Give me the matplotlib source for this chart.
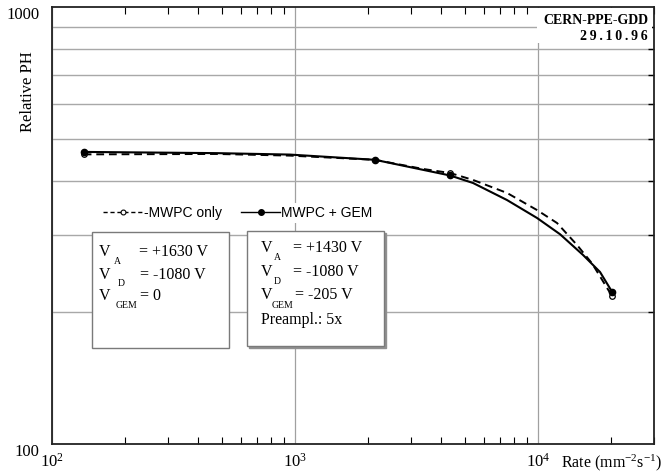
import numpy as np
import matplotlib.pyplot as plt
from matplotlib.patches import Rectangle
from matplotlib.ticker import NullFormatter, FixedLocator

plt.rcParams['font.family'] = ['Liberation Serif', 'DejaVu Serif']
plt.rcParams['mathtext.fontset'] = 'custom'
plt.rcParams['mathtext.rm'] = 'Liberation Serif'
plt.rcParams['mathtext.it'] = 'Liberation Serif:italic'

# Datos leídos de la figura
# curvas (MWPC + GEM continua, MWPC sola discontinua)
gem_curve_x = [135, 477, 953, 2134, 3363, 4345, 5402, 7454, 9905, 12317, 15318, 17990, 20160]
gem_curve_y = [466, 463, 459.5, 447, 424, 411.6, 395.6, 361.6, 329, 302, 270.7, 247.5, 223]
mwpc_curve_x = [135, 477, 953, 2134, 3363, 4345, 5402, 7454, 9905, 11970, 14470, 16680, 20160]
mwpc_curve_y = [460, 461, 457, 447, 426, 417, 402, 375.4, 343, 320.4, 285.3, 259, 218]

# puntos medidos
gem_pts_x = [135, 2134, 4345, 20160]
gem_pts_y = [466, 447, 411.6, 223]
mwpc_pts_x = [135, 4345, 20160]
mwpc_pts_y = [460, 417, 218]

W, H = 661, 473
fig = plt.figure(figsize=(W / 100, H / 100), dpi=100)
ax = fig.add_axes([52 / W, 1 - 444 / H, (654 - 52) / W, (444 - 7) / H])

def fx(px):
    return px / W

def fy(py):
    return 1 - py / H

ax.set_xscale('log')
ax.set_yscale('log')
ax.set_xlim(100, 30000)
ax.set_ylim(100, 1000)

# curvas
ax.plot(mwpc_curve_x, mwpc_curve_y, color='black', lw=1.4, ls=(0, (4, 2.5)), zorder=3)
ax.plot(gem_curve_x, gem_curve_y, color='black', lw=1.5, zorder=3)
ax.plot(mwpc_pts_x, mwpc_pts_y, 'o', color='black', mfc='white', ms=4, mew=0.9, zorder=4)
ax.plot(gem_pts_x, gem_pts_y, 'o', color='black', ms=4.5, zorder=5)

# leyenda
h1, = ax.plot([], [], color='black', lw=1.0, ls=(0, (3, 2)), marker='o', mfc='white', ms=3.5, mew=0.8)
h2, = ax.plot([], [], color='black', lw=1.0, marker='o', ms=4)
leg = ax.legend([h1, h2], ['-MWPC only', 'MWPC + GEM'], loc='center left',
                bbox_to_anchor=(fx(100), fy(213)), bbox_transform=fig.transFigure,
                ncol=2, frameon=True, fancybox=False, edgecolor='none', framealpha=1,
                handlelength=2.8, handletextpad=0.1, columnspacing=1.4, borderpad=0.25,
                borderaxespad=0, prop={'family': 'Liberation Sans', 'size': 10})
leg.set_zorder(6)

# rejilla y ejes
ax.set_axisbelow(True)
ax.yaxis.set_minor_locator(FixedLocator([200, 300, 400, 500, 600, 700, 800, 900]))
ax.yaxis.set_minor_formatter(NullFormatter())
ax.xaxis.set_minor_formatter(NullFormatter())
ax.set_xticks([100, 1000, 10000])
ax.set_xticklabels([r'$10^{2}$', r'$10^{3}$', r'$10^{4}$'], fontsize=12)
ax.set_yticks([100, 1000])
ax.set_yticklabels(['100', '1000'], fontsize=12, va='top')
ax.grid(True, which='major', axis='x', color='#a0a0a0', lw=0.9)
ax.grid(True, which='minor', axis='y', color='#a8a8a8', lw=1.0)

ax.tick_params(axis='x', which='both', direction='in', top=True, bottom=True, pad=6)
ax.tick_params(axis='x', which='minor', length=5, width=0.8)
ax.tick_params(axis='x', which='major', length=0)
ax.tick_params(axis='y', which='minor', direction='in', left=False, right=True, length=4, width=1)
ax.tick_params(axis='y', which='major', length=0, pad=9)
for s in ax.spines.values():
    s.set_linewidth(1.3)
    s.set_color('#222222')

fig.text(fx(28), fy(92), 'Relative PH', fontsize=12, rotation=90, ha='center', va='center')
fig.text(fx(561), fy(463), r'Rate (mm$^{-2}$s$^{-1}$)', fontsize=11.5, va='center', ha='left')

# sello superior derecho
fig.patches.append(Rectangle((fx(537), fy(43)), fx(652 - 537), (43 - 8) / H,
                             transform=fig.transFigure, facecolor='white', edgecolor='none', zorder=2))
fig.text(fx(648), fy(20), 'CERN-PPE-GDD', fontsize=10, fontweight='bold', ha='right', va='center', zorder=3)
fig.text(fx(648), fy(36), '2\u20099\u2009.\u20091\u20090\u2009.\u20099\u20096', fontsize=10, fontweight='bold',
         ha='right', va='center', zorder=3)

# cuadros de parámetros
def box(x0, y0, x1, y1, shadow=False):
    if shadow:
        fig.patches.append(Rectangle((fx(x0 + 1.5), fy(y1 + 1.5)), fx(x1 - x0), (y1 - y0) / H,
                                     transform=fig.transFigure, facecolor='#909090',
                                     edgecolor='#909090', lw=1, zorder=7))
    fig.patches.append(Rectangle((fx(x0), fy(y1)), fx(x1 - x0), (y1 - y0) / H,
                                 transform=fig.transFigure, facecolor='white',
                                 edgecolor='#7a7a7a', lw=1, zorder=8))

box(92, 232, 229, 348)
box(247, 231, 384, 346, shadow=True)

fs = 11.5
sfs = 7

def vline(xv, yv, sub, xsub, ysub, xeq, rest):
    fig.text(fx(xv), fy(yv), 'V', fontsize=fs, va='center', ha='left', zorder=9)
    fig.text(fx(xsub), fy(ysub), sub, fontsize=sfs, va='center', ha='center', zorder=9)
    fig.text(fx(xeq), fy(yv), rest, fontsize=fs, va='center', ha='left', zorder=9)

vline(99, 252, 'A', 117, 261, 139, '= +1630 V')
vline(99, 275, 'D', 121, 283, 140, '= -1080 V')
vline(99, 296, 'GEM', 127, 305, 140, '= 0')

vline(261, 248, 'A', 277, 258, 293, '= +1430 V')
vline(261, 272, 'D', 277, 282, 293, '= -1080 V')
vline(261, 295, 'GEM', 283, 305, 295, '= -205 V')
fig.text(fx(261), fy(320), 'Preampl.: 5x', fontsize=fs, va='center', ha='left', zorder=9)

fig.savefig('out.png', dpi=100)
